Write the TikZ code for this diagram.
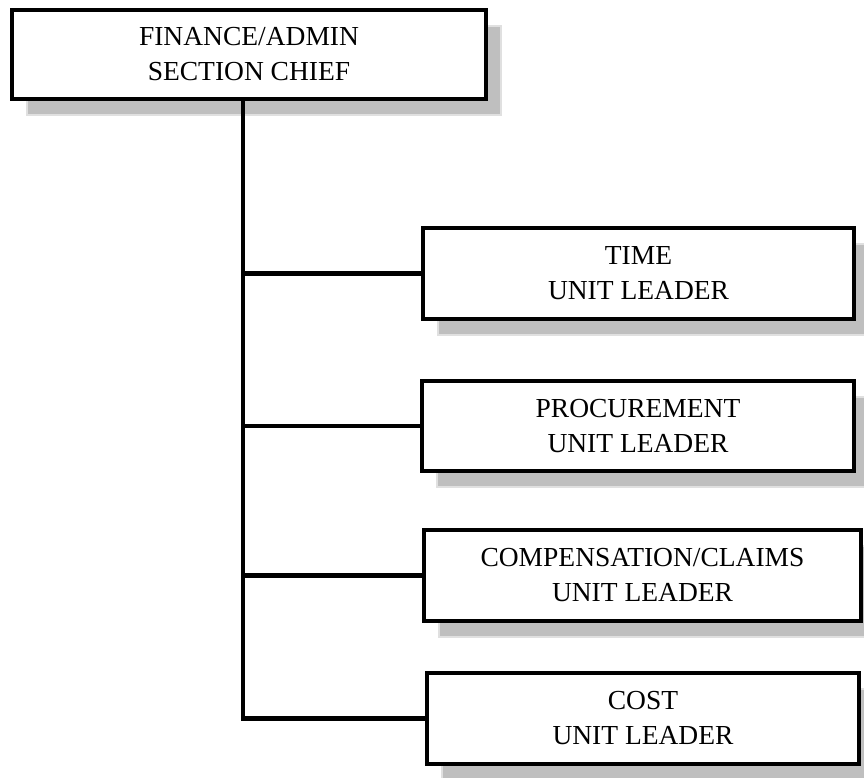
\documentclass[tikz,border=0pt]{standalone}
\usepackage{fontspec}
\setmainfont{Liberation Serif}
\usepackage{tikz}
\usetikzlibrary{shadows,positioning,calc}
\tikzset{
  orgbox/.style={rectangle, draw=black, fill=white, line width=4.6pt,
    align=center, font=\fontsize{27.5}{35}\selectfont, inner sep=0pt, outer sep=0pt,
    drop shadow={shadow xshift=15pt, shadow yshift=-16pt, fill=black!25,
      draw=black!12, line width=1.5pt, opacity=1}},
  chiefbox/.style={orgbox, minimum width=474pt, minimum height=89pt},
  unitbox/.style={orgbox, minimum width=432pt, minimum height=91pt},
  orgline/.style={draw=black, line width=4.2pt},
}

\begin{document}
\begin{tikzpicture}[x=1pt, y=-1pt]
  \useasboundingbox (0,0) rectangle (864,777);
  \clip (0,0) rectangle (864,777);

  % ============ Section chief (top) ============
  \node[chiefbox] (chief) at (249, 54.5) {FINANCE/ADMIN\\SECTION CHIEF};

  % ============ Unit leaders (right column) ============
  \node[unitbox, minimum width=431pt] (time) at (638.5, 273.5) {TIME\\UNIT LEADER};
  \node[unitbox, minimum height=90pt] (procure) at (638, 426) {PROCUREMENT\\UNIT LEADER};
  \node[unitbox, minimum width=437pt] (comp) at (642.5, 575.5) {COMPENSATION/CLAIMS\\UNIT LEADER};
  \node[unitbox] (cost) at (643, 718.5) {COST\\UNIT LEADER};

  % ============ Trunk line ============
  \coordinate (trunktop) at (243, 99);
  \coordinate (trunkend) at (243, 720.5);
  \draw[orgline] (trunktop) -- (trunkend);

  % ============ Branches to each unit ============
  \draw[orgline] (time.west)    -- (time.west -| trunktop);
  \draw[orgline] (procure.west) -- (procure.west -| trunktop);
  \draw[orgline] (comp.west)    -- (comp.west -| trunktop);
  \draw[orgline] (cost.west)    -- (cost.west -| trunktop);

\end{tikzpicture}
\end{document}
